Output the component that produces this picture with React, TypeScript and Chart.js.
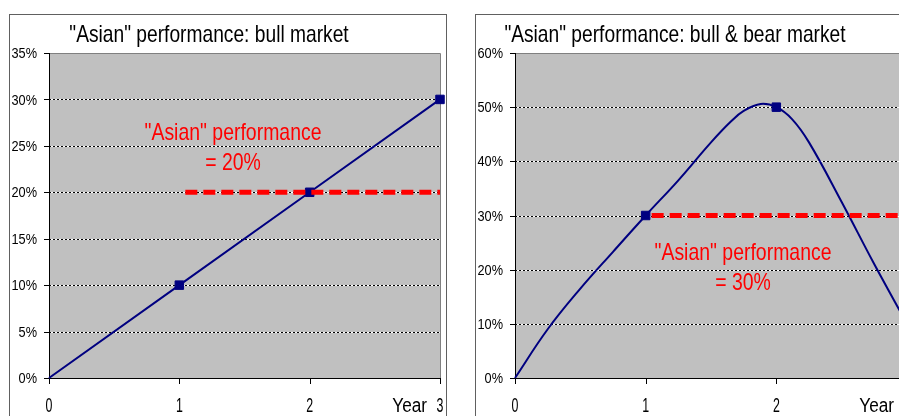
import React, { useEffect, useRef } from "react";
import { Chart, registerables } from "chart.js";

Chart.register(...registerables);

// ---- data ----
const yearTicks = [0, 1, 2, 3];

const bullTitle = '"Asian" performance: bull market';
const bullYears = [0, 1, 2, 3];
const bullReturns = [0, 10, 20, 30];
const bullMarkedYears = [1, 2, 3];
const bullAverageYears = [1, 3];
const bullAverage = [20, 20];
const bullTicks = [0, 5, 10, 15, 20, 25, 30, 35];
const bullNote = ['"Asian" performance', "= 20%"];

const cycleTitle = '"Asian" performance: bull & bear market';
const cycleYears = [0, 0.25, 0.5, 0.75, 1, 1.25, 1.5, 1.65, 1.75, 1.88, 2, 2.12, 2.25, 2.5, 2.75, 3];
const cycleReturns = [0, 9, 16.5, 23.3, 30, 36.5, 43.5, 47.3, 49.3, 50.6, 50, 47.8, 43.5, 32.5, 21, 10];
const cycleMarkedYears = [1, 2];
const cycleAverageYears = [1, 3];
const cycleAverage = [30, 30];
const cycleTicks = [0, 10, 20, 30, 40, 50, 60];
const cycleNote = ['"Asian" performance', "= 30%"];

// ---- styling ----
const FONT = '"Liberation Sans", Arial, sans-serif';
const NAVY = "#000080";
const RED = "#FF0000";
const PLOT_BG = "#C0C0C0";
const CANVAS_W = 438;
const CANVAS_H = 402;

function squeezedText(
  ctx: CanvasRenderingContext2D,
  text: string,
  x: number,
  y: number,
  size: number,
  sx: number,
  color: string,
  align: CanvasTextAlign,
  baseline: CanvasTextBaseline = "alphabetic"
) {
  ctx.save();
  ctx.translate(x, y);
  ctx.scale(sx, 1);
  ctx.font = `${size}px ${FONT}`;
  ctx.fillStyle = color;
  ctx.textAlign = align;
  ctx.textBaseline = baseline;
  ctx.fillText(text, 0, 0);
  ctx.restore();
}

type PanelProps = {
  left: number;
  title: string;
  years: number[];
  returns: number[];
  markedYears: number[];
  averageYears: number[];
  average: number[];
  yTicks: number[];
  note: string[];
  noteDx: number;
  noteDy: number;
  tension: number;
};

function Panel(props: PanelProps) {
  const ref = useRef<HTMLCanvasElement | null>(null);

  useEffect(() => {
    const canvas = ref.current;
    if (!canvas) return;
    const yMin = props.yTicks[0];
    const yMax = props.yTicks[props.yTicks.length - 1];

    const decor = {
      id: "excelDecor",
      beforeDatasetsDraw(chart: any) {
        const { ctx, chartArea: a, scales } = chart;
        const ys = scales.y;
        const xs = scales.x;
        ctx.save();
        ctx.fillStyle = PLOT_BG;
        ctx.fillRect(a.left, a.top, a.right - a.left, a.bottom - a.top);

        // dotted gridlines
        ctx.lineWidth = 1;
        for (const v of props.yTicks) {
          if (v === yMin || v === yMax) continue;
          const py = Math.round(ys.getPixelForValue(v)) + 0.5;
          ctx.setLineDash([]);
          ctx.strokeStyle = "#ffffff";
          ctx.beginPath();
          ctx.moveTo(a.left, py);
          ctx.lineTo(a.right, py);
          ctx.stroke();
          ctx.setLineDash([2, 2]);
          ctx.strokeStyle = "#000000";
          ctx.beginPath();
          ctx.moveTo(a.left, py);
          ctx.lineTo(a.right, py);
          ctx.stroke();
        }
        ctx.setLineDash([]);

        // plot border (top / right)
        ctx.strokeStyle = "#808080";
        ctx.beginPath();
        ctx.moveTo(a.left, a.top + 0.5);
        ctx.lineTo(a.right + 0.5, a.top + 0.5);
        ctx.lineTo(a.right + 0.5, a.bottom);
        ctx.stroke();

        // axes
        ctx.strokeStyle = "#000000";
        ctx.beginPath();
        ctx.moveTo(a.left + 0.5, a.top);
        ctx.lineTo(a.left + 0.5, a.bottom + 0.5);
        ctx.lineTo(a.right + 1, a.bottom + 0.5);
        ctx.stroke();

        // tick marks
        ctx.beginPath();
        for (const v of props.yTicks) {
          const py = Math.round(ys.getPixelForValue(v)) + 0.5;
          ctx.moveTo(a.left - 5, py);
          ctx.lineTo(a.left + 1, py);
        }
        for (const v of yearTicks) {
          const px = Math.round(xs.getPixelForValue(v)) + 0.5;
          ctx.moveTo(px, a.bottom);
          ctx.lineTo(px, a.bottom + 6);
        }
        ctx.stroke();
        ctx.restore();
      },
      afterDraw(chart: any) {
        const { ctx, chartArea: a, scales } = chart;
        const ys = scales.y;
        const xs = scales.x;
        squeezedText(ctx, props.title, 200, 28, 24, 0.8, "#000", "center");
        for (const v of props.yTicks) {
          squeezedText(ctx, `${v}%`, a.left - 12, ys.getPixelForValue(v) + 1, 15, 0.85, "#000", "right", "middle");
        }
        const labelY = a.bottom + 34;
        for (const v of yearTicks) {
          squeezedText(ctx, String(v), xs.getPixelForValue(v), labelY, 20, 0.62, "#000", "center");
        }
        squeezedText(ctx, "Year", xs.getPixelForValue(3) - 13, labelY, 20, 0.86, "#000", "right");
        props.note.forEach((line, i) => {
          squeezedText(ctx, line, a.left + props.noteDx, a.top + props.noteDy + i * 30, 24, 0.81, RED, "center");
        });
      },
    };

    const chart = new Chart(canvas, {
      type: "line",
      data: {
        datasets: [
          {
            data: props.averageYears.map((x, i) => ({ x, y: props.average[i] })),
            borderColor: RED,
            borderWidth: 5,
            borderDash: [12, 6],
            borderDashOffset: 12,
            pointRadius: 0,
            borderCapStyle: "butt",
          },
          {
            data: props.years.map((x, i) => ({ x, y: props.returns[i] })),
            borderColor: NAVY,
            borderWidth: 2,
            tension: props.tension,
            pointStyle: "rect",
            pointRadius: props.years.map((x) => (props.markedYears.includes(x) ? 6 : 0)),
            pointBackgroundColor: NAVY,
            pointBorderColor: NAVY,
            pointBorderWidth: 1,
            clip: false,
          },
        ] as any,
      },
      options: {
        animation: false,
        responsive: false,
        devicePixelRatio: 1,
        events: [],
        layout: { padding: { left: 40, top: 39, right: 6, bottom: 38 } },
        plugins: { legend: { display: false }, tooltip: { enabled: false }, title: { display: false } },
        scales: {
          x: { type: "linear", min: 0, max: 3, display: false },
          y: { type: "linear", min: yMin, max: yMax, display: false },
        },
      },
      plugins: [decor],
    } as any);

    return () => chart.destroy();
  }, []);

  return (
    <>
      <div
        style={{
          position: "absolute",
          left: props.left,
          top: 14,
          width: 438,
          height: 420,
          boxSizing: "border-box",
          border: "1px solid #606060",
        }}
      />
      <canvas
        ref={ref}
        width={CANVAS_W}
        height={CANVAS_H}
        style={{ position: "absolute", left: props.left, top: 14, width: CANVAS_W, height: CANVAS_H }}
      />
    </>
  );
}

export default function App() {
  return (
    <div
      style={{
        position: "fixed",
        left: 0,
        top: 0,
        width: 899,
        height: 416,
        overflow: "hidden",
        background: "#ffffff",
      }}
    >
      <Panel
        left={9}
        title={bullTitle}
        years={bullYears}
        returns={bullReturns}
        markedYears={bullMarkedYears}
        averageYears={bullAverageYears}
        average={bullAverage}
        yTicks={bullTicks}
        note={bullNote}
        noteDx={184}
        noteDy={87}
        tension={0}
      />
      <Panel
        left={475}
        title={cycleTitle}
        years={cycleYears}
        returns={cycleReturns}
        markedYears={cycleMarkedYears}
        averageYears={cycleAverageYears}
        average={cycleAverage}
        yTicks={cycleTicks}
        note={cycleNote}
        noteDx={228}
        noteDy={207}
        tension={0.4}
      />
    </div>
  );
}
